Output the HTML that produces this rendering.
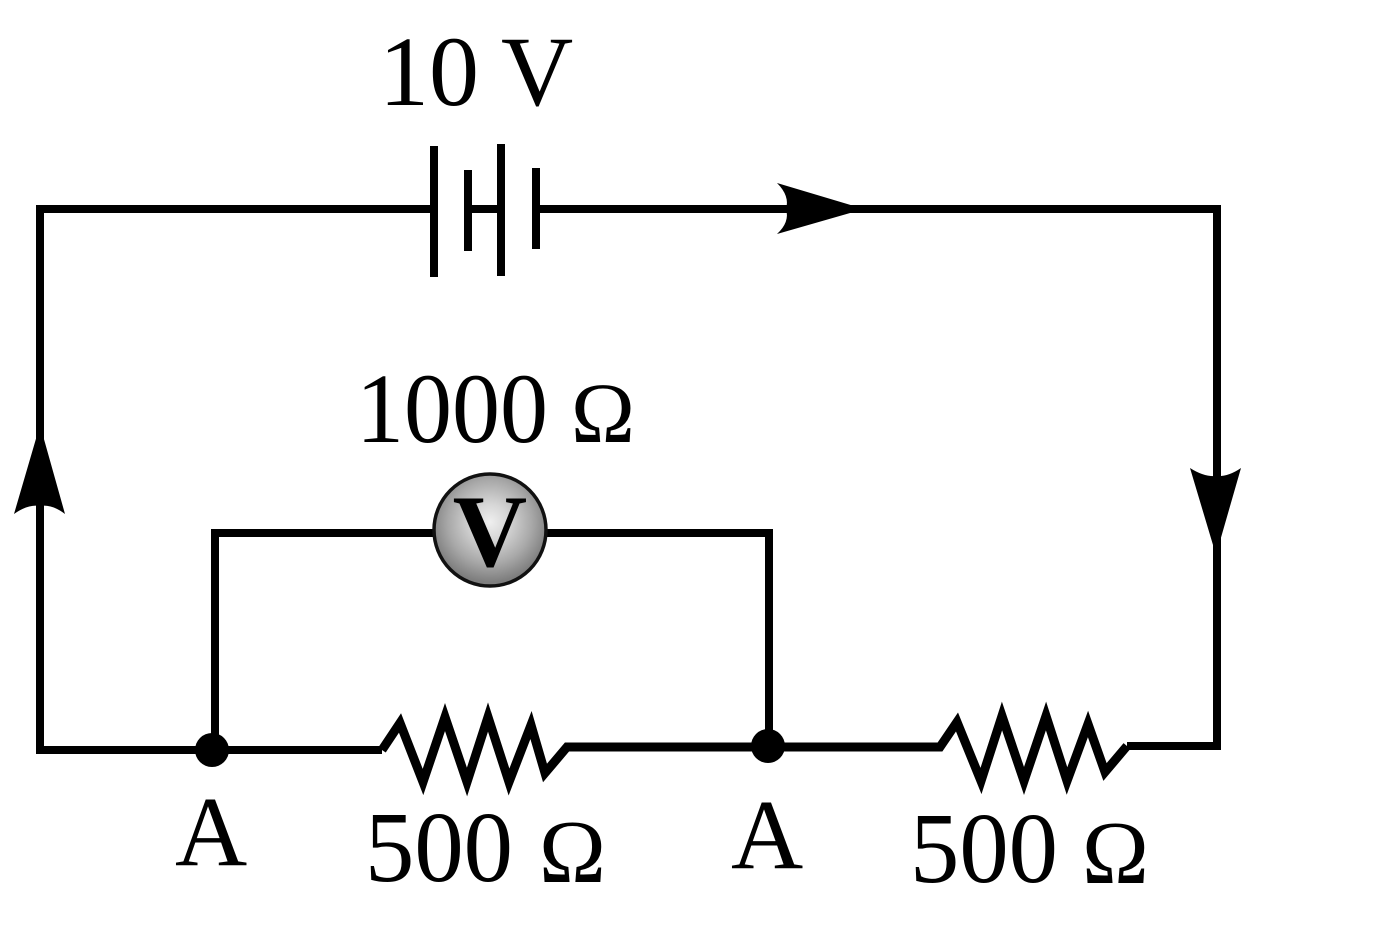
<!DOCTYPE html>
<html>
<head>
<meta charset="utf-8">
<style>
  html, body { margin: 0; padding: 0; background: #ffffff; }
  body { width: 1390px; height: 928px; overflow: hidden; }
  svg { display: block; }
  text { font-family: "Liberation Serif", "DejaVu Serif", serif; fill: #000; }
</style>
</head>
<body>
<svg width="1390" height="928" viewBox="0 0 1390 928" xmlns="http://www.w3.org/2000/svg">
  <defs>
    <radialGradient id="vg" cx="490" cy="522" r="60" gradientUnits="userSpaceOnUse">
      <stop offset="0" stop-color="#efefef"/>
      <stop offset="0.3" stop-color="#d6d6d6"/>
      <stop offset="0.7" stop-color="#a8a8a8"/>
      <stop offset="1" stop-color="#7e7e7e"/>
    </radialGradient>
  </defs>

  <g fill="none" stroke="#000" stroke-width="8" stroke-linecap="butt" stroke-linejoin="miter">
    <!-- top wire left of battery, left side, bottom-left -->
    <polyline points="430,209 40,209 40,750 382,750"/>
    <!-- top wire right of battery to right side and bottom-right -->
    <polyline points="540,209 1217,209 1217,746 1127,746"/>
    <!-- battery inner link -->
    <line x1="468" y1="209" x2="501" y2="209"/>
    <!-- voltmeter branch -->
    <polyline points="215,750 215,533 433,533"/>
    <polyline points="547,533 769,533 769,746"/>
  </g>
  <g fill="none" stroke="#000" stroke-width="9" stroke-linecap="butt" stroke-linejoin="miter" stroke-miterlimit="10">
    <!-- left resistor -->
    <polyline points="382,750 400,723 423,782 445,717 467,782 488,717 509,782 531,725 545,773 567,747 768,747"/>
    <!-- wire between dots and right resistor -->
    <polyline points="768,747 940,747 957,722 981,781 1002,716 1024,781 1046,716 1067,781 1088,724 1105,772 1127,746"/>
  </g>

  <!-- battery plates -->
  <g stroke="#000" stroke-width="8">
    <line x1="434" y1="146" x2="434" y2="277"/>
    <line x1="468" y1="170" x2="468" y2="251"/>
    <line x1="501" y1="144" x2="501" y2="276"/>
    <line x1="536" y1="168" x2="536" y2="249"/>
  </g>

  <!-- arrows -->
  <path d="M864,209 L777,183 Q790,196 786,209 Q790,222 777,234 Z" fill="#000"/>
  <path d="M40,425 L65,514 Q52,504 40,506 Q28,504 14,514 Z" fill="#000"/>
  <path d="M1216,555 L1190,468 Q1204,477 1216,476 Q1228,477 1241,468 Z" fill="#000"/>

  <!-- junction dots -->
  <circle cx="212" cy="750" r="17" fill="#000"/>
  <circle cx="768" cy="746" r="17" fill="#000"/>

  <!-- voltmeter -->
  <circle cx="490" cy="530" r="56" fill="url(#vg)" stroke="#111" stroke-width="3.5"/>
  <text x="490" y="566" font-size="103" font-weight="bold" text-anchor="middle">V</text>

  <!-- labels -->
  <text x="379" y="105" font-size="100">10</text>
  <text x="501" y="105" font-size="100">V</text>

  <text x="356" y="442" font-size="100" textLength="192" lengthAdjust="spacingAndGlyphs">1000</text>
  <text x="571" y="442" font-size="86">Ω</text>

  <text x="175" y="865" font-size="100">A</text>
  <text x="731" y="868" font-size="100">A</text>

  <text x="365" y="881" font-size="101" textLength="148" lengthAdjust="spacingAndGlyphs">500</text>
  <text x="539" y="882" font-size="90">Ω</text>

  <text x="910" y="882" font-size="101" textLength="148" lengthAdjust="spacingAndGlyphs">500</text>
  <text x="1082" y="883" font-size="90">Ω</text>
</svg>
</body>
</html>
